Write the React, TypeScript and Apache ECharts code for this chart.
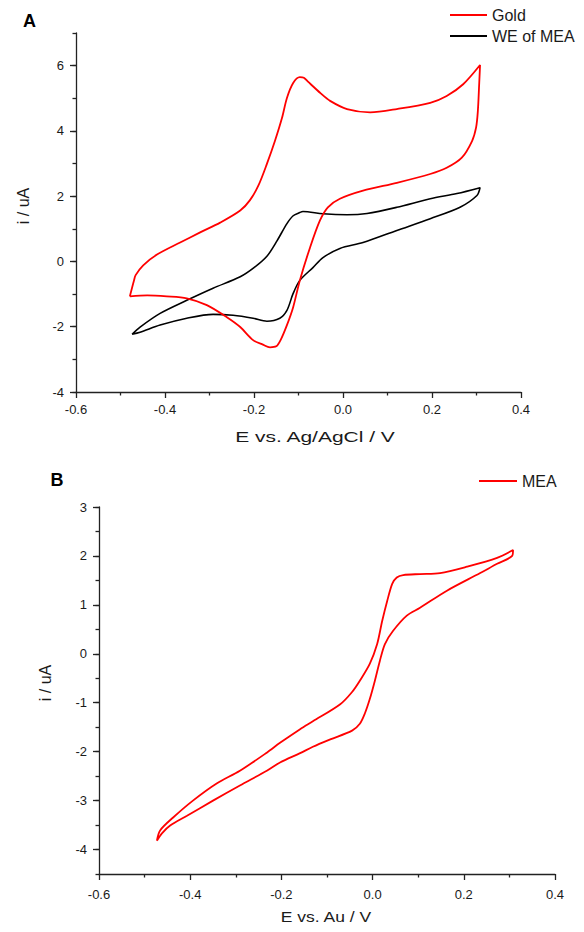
import React, { useEffect, useRef } from "react";
import * as echarts from "echarts";

// Panel A – CV of bare gold electrode (E vs. Ag/AgCl, V ; i, uA)
const goldCurve: number[][] = [
  [-0.479, -1.07], [-0.470, -0.60], [-0.466, -0.42], [-0.449, -0.12], [-0.418, 0.21],
  [-0.366, 0.58], [-0.321, 0.89], [-0.276, 1.19], [-0.231, 1.56], [-0.209, 1.88],
  [-0.190, 2.33], [-0.171, 2.99], [-0.153, 3.69], [-0.137, 4.40], [-0.126, 5.01],
  [-0.112, 5.47], [-0.097, 5.65], [-0.088, 5.63], [-0.078, 5.50], [-0.050, 5.15],
  [-0.029, 4.92], [0.009, 4.67], [0.061, 4.57], [0.121, 4.67], [0.196, 4.86],
  [0.233, 5.07], [0.270, 5.43], [0.308, 6.02],
  [0.306, 5.43], [0.303, 4.60], [0.299, 4.10], [0.290, 3.69], [0.267, 3.18],
  [0.233, 2.87], [0.196, 2.68], [0.121, 2.41], [0.045, 2.17], [-0.007, 1.92],
  [-0.034, 1.66], [-0.052, 1.25], [-0.074, 0.43], [-0.097, -0.58], [-0.112, -1.40],
  [-0.126, -1.95], [-0.140, -2.40], [-0.150, -2.60], [-0.164, -2.63], [-0.180, -2.55],
  [-0.202, -2.41], [-0.231, -2.01], [-0.261, -1.71], [-0.306, -1.34], [-0.351, -1.13],
  [-0.396, -1.07], [-0.440, -1.04], [-0.479, -1.07],
];

// Panel A – CV of the MEA working electrode
const weMeaCurve: number[][] = [
  [-0.474, -2.23], [-0.456, -2.01], [-0.411, -1.59], [-0.351, -1.19], [-0.292, -0.82],
  [-0.231, -0.47], [-0.200, -0.19], [-0.171, 0.16], [-0.148, 0.64], [-0.126, 1.16],
  [-0.112, 1.40], [-0.097, 1.50], [-0.090, 1.53], [-0.045, 1.46], [0.009, 1.43],
  [0.054, 1.47], [0.121, 1.66], [0.196, 1.92], [0.256, 2.08], [0.308, 2.26],
  [0.301, 2.02], [0.263, 1.66], [0.196, 1.31], [0.121, 0.95], [0.045, 0.58],
  [-0.007, 0.40], [-0.045, 0.12], [-0.067, -0.18], [-0.097, -0.58], [-0.112, -0.98],
  [-0.126, -1.50], [-0.142, -1.74], [-0.171, -1.83], [-0.202, -1.74], [-0.247, -1.65],
  [-0.292, -1.62], [-0.351, -1.74], [-0.411, -1.95], [-0.456, -2.17], [-0.474, -2.23],
];

// Panel B – CV of MEA (E vs. Au, V ; i, uA)
const meaCurve: number[][] = [
  [-0.473, -3.82], [-0.466, -3.61], [-0.438, -3.35], [-0.394, -3.00], [-0.342, -2.65],
  [-0.291, -2.39], [-0.232, -2.02], [-0.203, -1.82], [-0.159, -1.54], [-0.131, -1.38],
  [-0.071, -1.03], [-0.045, -0.78], [-0.028, -0.55], [-0.006, -0.20], [0.010, 0.20],
  [0.021, 0.67], [0.032, 1.08], [0.043, 1.43], [0.053, 1.56], [0.067, 1.61],
  [0.104, 1.63], [0.148, 1.65], [0.207, 1.78], [0.273, 1.96], [0.308, 2.12],
  [0.306, 2.00], [0.273, 1.84], [0.236, 1.65], [0.163, 1.29], [0.104, 0.94],
  [0.075, 0.78], [0.045, 0.47], [0.027, 0.20], [0.016, -0.14], [0.005, -0.55],
  [-0.006, -0.92], [-0.017, -1.22], [-0.028, -1.43], [-0.045, -1.57], [-0.093, -1.75],
  [-0.131, -1.90], [-0.159, -2.03], [-0.203, -2.22], [-0.232, -2.39], [-0.291, -2.69],
  [-0.350, -3.00], [-0.407, -3.31], [-0.444, -3.51], [-0.462, -3.67], [-0.473, -3.82],
];

const legendA = ["Gold", "WE of MEA"];
const legendB = ["MEA"];

const FONT = "'Liberation Sans', Arial, Helvetica, sans-serif";
const AXIS_COLOR = "#222";
const TEXT_COLOR = "#1a1a1a";

// layout (px)
const A = { left: 76, top: 33, width: 445, height: 359, yMin: -4, yMax: 7 };
const B = { left: 99, top: 507, width: 456, height: 367, yMin: -4.5, yMax: 3 };
const aUnit = A.height / (A.yMax - A.yMin);
const bUnit = B.height / (B.yMax - B.yMin);

const fmtX = (v: number) => (Math.abs(v) < 1e-9 ? "0.0" : v.toFixed(1));
const fmtY = (v: number) => String(Math.round(v));

const lineStyle = { color: AXIS_COLOR, width: 1.3 };

function dataXAxis(gridIndex: number) {
  return {
    type: "value",
    gridIndex,
    min: -0.6,
    max: 0.4,
    interval: 0.2,
    axisLine: { show: true, onZero: false, lineStyle },
    axisTick: { show: true, length: 6, lineStyle },
    minorTick: { show: true, splitNumber: 2, length: 3.5, lineStyle },
    splitLine: { show: false },
    minorSplitLine: { show: false },
    axisLabel: {
      show: true,
      fontSize: 13,
      fontFamily: FONT,
      color: TEXT_COLOR,
      margin: gridIndex === 0 ? 11 : 14,
      formatter: fmtX,
    },
  };
}

const legendText = { fontSize: 16, fontFamily: FONT, color: TEXT_COLOR, lineHeight: 16 };

export default function App() {
  const ref = useRef<HTMLDivElement>(null);

  useEffect(() => {
    if (!ref.current) return;
    const chart = echarts.init(ref.current, null, { renderer: "svg" });

    const option: any = {
      animation: false,
      backgroundColor: "#ffffff",
      grid: [
        { left: A.left, top: A.top, width: A.width, height: A.height, outerBoundsMode: "none" },
        { left: B.left, top: B.top, width: B.width, height: B.height, outerBoundsMode: "none" },
        {
          left: A.left,
          top: A.top + (A.yMax - 6) * aUnit,
          width: A.width,
          height: 10 * aUnit,
          outerBoundsMode: "none",
        },
        {
          left: B.left,
          top: B.top,
          width: B.width,
          height: 7 * bUnit,
          outerBoundsMode: "none",
        },
      ],
      xAxis: [
        dataXAxis(0),
        dataXAxis(1),
        { type: "value", gridIndex: 2, min: 0, max: 1, show: false },
        { type: "value", gridIndex: 3, min: 0, max: 1, show: false },
      ],
      yAxis: [
        {
          type: "value",
          gridIndex: 0,
          min: A.yMin,
          max: A.yMax,
          interval: 1,
          axisLine: { show: true, onZero: false, lineStyle },
          axisTick: { show: true, length: 3.5, lineStyle },
          axisLabel: { show: false },
          splitLine: { show: false },
        },
        {
          type: "value",
          gridIndex: 1,
          min: B.yMin,
          max: B.yMax,
          interval: 0.5,
          axisLine: { show: true, onZero: false, lineStyle },
          axisTick: { show: true, length: 3.5, lineStyle },
          axisLabel: { show: false },
          splitLine: { show: false },
        },
        {
          type: "value",
          gridIndex: 2,
          min: -4,
          max: 6,
          interval: 2,
          axisLine: { show: false, onZero: false },
          axisTick: { show: true, length: 6, lineStyle },
          axisLabel: { fontSize: 13, fontFamily: FONT, color: TEXT_COLOR, margin: 12, formatter: fmtY },
          splitLine: { show: false },
        },
        {
          type: "value",
          gridIndex: 3,
          min: -4,
          max: 3,
          interval: 1,
          axisLine: { show: false, onZero: false },
          axisTick: { show: true, length: 6, lineStyle },
          axisLabel: { fontSize: 13, fontFamily: FONT, color: TEXT_COLOR, margin: 12, formatter: fmtY },
          splitLine: { show: false },
        },
      ],
      legend: [
        {
          data: legendA.map((name) => ({ name, icon: "rect" })),
          orient: "vertical",
          left: 450,
          top: 7,
          itemWidth: 37,
          itemHeight: 2,
          itemGap: 5,
          padding: 0,
          selectedMode: false,
          textStyle: legendText,
        },
        {
          data: legendB.map((name) => ({ name, icon: "rect" })),
          orient: "vertical",
          left: 479,
          top: 473,
          itemWidth: 38,
          itemHeight: 2,
          padding: 0,
          selectedMode: false,
          textStyle: legendText,
        },
      ],
      series: [
        {
          type: "line",
          name: "WE of MEA",
          xAxisIndex: 0,
          yAxisIndex: 0,
          data: weMeaCurve,
          symbol: "none",
          smooth: 0.3,
          lineStyle: { color: "#000000", width: 1.6 },
          itemStyle: { color: "#000000" },
        },
        {
          type: "line",
          name: "Gold",
          xAxisIndex: 0,
          yAxisIndex: 0,
          data: goldCurve,
          symbol: "none",
          smooth: 0.3,
          lineStyle: { color: "#ff0000", width: 1.8 },
          itemStyle: { color: "#ff0000" },
        },
        {
          type: "line",
          name: "MEA",
          xAxisIndex: 1,
          yAxisIndex: 1,
          data: meaCurve,
          symbol: "none",
          smooth: 0.3,
          lineStyle: { color: "#ff0000", width: 1.8 },
          itemStyle: { color: "#ff0000" },
        },
      ],
      graphic: [
        {
          type: "text",
          x: 29.5,
          y: 21,
          style: { text: "A", fontSize: 18, fontWeight: "bold", fontFamily: FONT, fill: "#000", align: "center", verticalAlign: "middle" },
        },
        {
          type: "text",
          x: 57,
          y: 480,
          style: { text: "B", fontSize: 18, fontWeight: "bold", fontFamily: FONT, fill: "#000", align: "center", verticalAlign: "middle" },
        },
        {
          type: "text",
          x: 315,
          y: 437,
          scaleX: 1.5,
          style: { text: "E vs. Ag/AgCl / V", fontSize: 14, fontFamily: FONT, fill: TEXT_COLOR, align: "center", verticalAlign: "middle" },
        },
        {
          type: "text",
          x: 326,
          y: 917,
          scaleX: 1.25,
          style: { text: "E vs. Au / V", fontSize: 14, fontFamily: FONT, fill: TEXT_COLOR, align: "center", verticalAlign: "middle" },
        },
        {
          type: "text",
          x: 23,
          y: 206,
          rotation: Math.PI / 2,
          style: { text: "i / uA", fontSize: 16, fontFamily: FONT, fill: TEXT_COLOR, align: "center", verticalAlign: "middle" },
        },
        {
          type: "text",
          x: 45,
          y: 683,
          rotation: Math.PI / 2,
          style: { text: "i / uA", fontSize: 16, fontFamily: FONT, fill: TEXT_COLOR, align: "center", verticalAlign: "middle" },
        },
      ],
    };

    chart.setOption(option);
    return () => {
      chart.dispose();
    };
  }, []);

  return (
    <div
      ref={ref}
      style={{ position: "fixed", left: 0, top: 0, width: 584, height: 932, background: "#fff" }}
    />
  );
}
